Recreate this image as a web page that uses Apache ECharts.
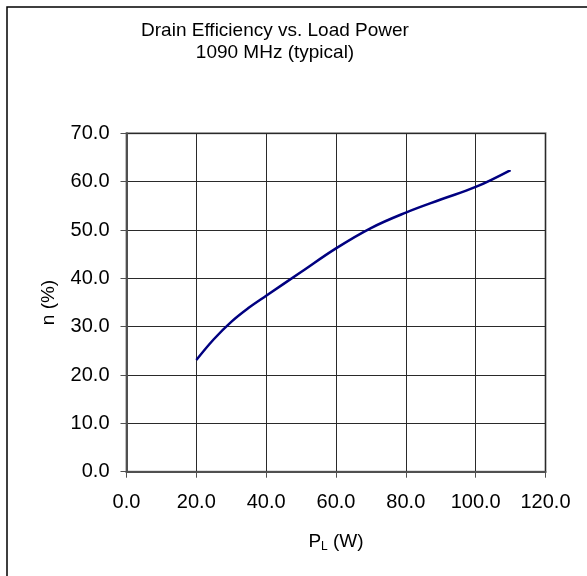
<!DOCTYPE html>
<html>
<head>
<meta charset="utf-8">
<script src="https://cdn.jsdelivr.net/npm/echarts@6/dist/echarts.min.js"></script>
<style>
  html, body { margin: 0; padding: 0; background: #fff; }
  #chart { width: 587px; height: 576px; }
</style>
</head>
<body>
<div id="chart"></div>
<script>
// load power (W) and drain efficiency (%)
var loadPower = [20, 25, 30, 35, 40, 50, 60, 70, 80, 90, 100, 110];
var efficiency = [23.1, 27.4, 31.0, 33.9, 36.4, 41.3, 46.2, 50.4, 53.6, 56.3, 58.9, 62.4];

var points = loadPower.map(function (p, i) { return [p, efficiency[i]]; });
var font = 'Liberation Sans, Arial, sans-serif';

var myChart = echarts.init(document.getElementById('chart'));
myChart.setOption({
  animation: false,
  backgroundColor: '#fff',
  title: {
    text: 'Drain Efficiency vs. Load Power\n1090 MHz (typical)',
    left: 270,
    top: 15,
    textAlign: 'center',
    textStyle: { fontFamily: font, fontSize: 19, fontWeight: 'normal', color: '#000', lineHeight: 22 }
  },
  graphic: [{
    type: 'rect',
    shape: { x: 7, y: 7, width: 700, height: 700 },
    style: { fill: 'none', stroke: '#000', lineWidth: 1.5 },
    silent: true
  }],
  grid: {
    left: 126.5, right: 41.5, top: 133.3, bottom: 104.3,
    show: true, borderColor: '#808080', borderWidth: 2, backgroundColor: 'transparent'
  },
  xAxis: {
    type: 'value',
    min: 0, max: 120, interval: 20,
    name: '{p|P}{s|L}{p| (W)}',
    nameLocation: 'middle',
    nameGap: 59,
    nameTextStyle: {
      rich: {
        p: { fontFamily: font, fontSize: 19, color: '#000' },
        s: { fontFamily: font, fontSize: 12, color: '#000', verticalAlign: 'bottom', padding: [10, 0, 0, 0] }
      }
    },
    axisLine: { lineStyle: { color: '#505050', width: 2 } },
    axisTick: { show: true, length: 6, lineStyle: { color: '#505050', width: 1 } },
    axisLabel: {
      margin: 21,
      fontFamily: font, fontSize: 20, color: '#000',
      formatter: function (v) { return v.toFixed(1); }
    },
    splitLine: { show: true, lineStyle: { color: '#2a2a2a', width: 1 } }
  },
  yAxis: {
    type: 'value',
    min: 0, max: 70, interval: 10,
    name: 'n (%)',
    nameLocation: 'middle',
    nameGap: 68,
    nameTextStyle: { fontFamily: font, fontSize: 19, color: '#000' },
    axisLine: { show: true, lineStyle: { color: '#505050', width: 2 } },
    axisTick: { show: true, length: 6, lineStyle: { color: '#505050', width: 1 } },
    axisLabel: {
      margin: 17,
      fontFamily: font, fontSize: 20, color: '#000',
      formatter: function (v) { return v.toFixed(1); }
    },
    splitLine: { show: true, lineStyle: { color: '#2a2a2a', width: 1 } }
  },
  series: [{
    type: 'line',
    data: points,
    smooth: 0.4,
    showSymbol: false,
    lineStyle: { color: '#000080', width: 2.5 }
  }]
});
</script>
</body>
</html>
